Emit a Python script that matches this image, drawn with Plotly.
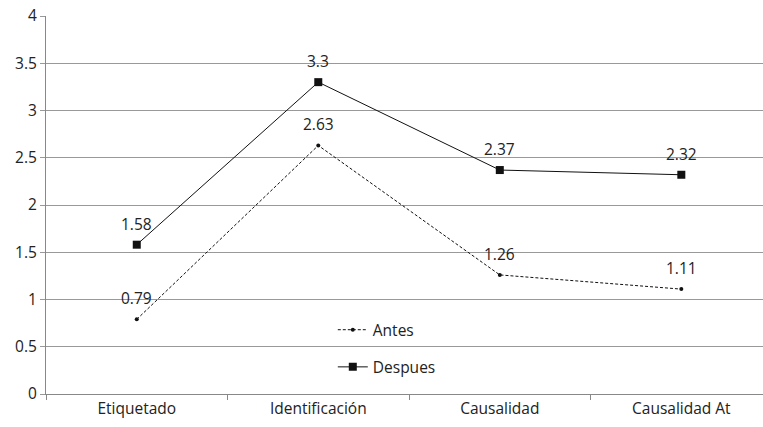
import plotly.graph_objects as go

categories = ["Etiquetado", "Identificación", "Causalidad", "Causalidad At"]
antes = [0.79, 2.63, 1.26, 1.11]
despues = [1.58, 3.3, 2.37, 2.32]
antes_labels = ["0.79", "2.63", "1.26", "1.11"]
despues_labels = ["1.58", "3.3", "2.37", "2.32"]
y_ticks = [0, 0.5, 1, 1.5, 2, 2.5, 3, 3.5, 4]

FONT = "Open Sans"
FS = 15.5
LABEL_SHIFT = 21

fig = go.Figure()
fig.add_trace(go.Scatter(
    x=categories, y=antes, name="Antes", mode="lines+markers",
    line=dict(color="#111", width=1, dash="3px,2px"),
    marker=dict(symbol="circle", size=4, color="#111"),
    legendgroup="a",
))
fig.add_trace(go.Scatter(
    x=categories, y=despues, name="Despues", mode="lines+markers",
    line=dict(color="#111", width=1),
    marker=dict(symbol="square", size=8, color="#111"),
    legendgroup="b",
))

for xs, ys, labels in [(categories, antes, antes_labels),
                       (categories, despues, despues_labels)]:
    for cx, cy, lab in zip(xs, ys, labels):
        fig.add_annotation(x=cx, y=cy, text=lab, showarrow=False,
                           yshift=LABEL_SHIFT, yanchor="middle",
                           font=dict(family=FONT, size=FS, color="#222"))

fig.update_layout(
    width=763, height=427,
    margin=dict(l=46, r=0, t=16, b=33),
    plot_bgcolor="white", paper_bgcolor="white",
    font=dict(family=FONT, size=FS, color="#222"),
    showlegend=True,
    legend=dict(x=0.40, y=0.12, xanchor="left", yanchor="middle",
                bgcolor="rgba(0,0,0,0)", font=dict(size=FS),
                tracegroupgap=14, traceorder="grouped"),
    xaxis=dict(range=[-0.5, 3.45], showgrid=False, showline=True,
               linecolor="#888", linewidth=1, ticks="outside",
               tickson="boundaries", ticklen=5, tickcolor="#888",
               tickfont=dict(size=FS), zeroline=False, automargin=False),
    yaxis=dict(range=[0, 4], tickvals=y_ticks, showgrid=True,
               gridcolor="#999", gridwidth=1, showline=True,
               linecolor="#888", ticks="outside", ticklen=5,
               tickcolor="#999", tickfont=dict(size=FS), zeroline=False,
               automargin=False, ticklabeloverflow="allow"),
)
fig.write_html("out.html",
               config={"displayModeBar": False},
               post_script="document.body.style.margin='0';")
